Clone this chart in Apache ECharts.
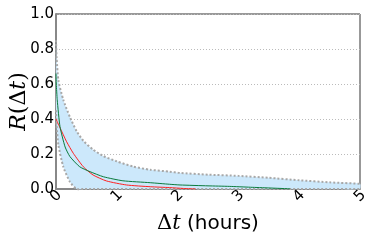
<!DOCTYPE html>
<html><head><meta charset="utf-8">
<script src="https://cdn.jsdelivr.net/npm/echarts@6/dist/echarts.min.js"></script>
<style>html,body{margin:0;padding:0;background:#fff}#c{width:374px;height:241px}</style>
</head><body><div id="c"></div>
<script>
const xTicks = [0, 1, 2, 3, 4, 5];
const yTicks = [0.0, 0.2, 0.4, 0.6, 0.8, 1.0];
const bandT     = [0, 0.01, 0.04, 0.12, 0.23, 0.34, 0.45, 0.61, 0.78, 1.0, 1.27, 1.55, 1.87, 2.04, 2.5, 3.0, 3.5, 4.0, 4.5, 5.0];
const bandUpper = [0.85, 0.75, 0.62, 0.51, 0.41, 0.33, 0.275, 0.225, 0.188, 0.158, 0.128, 0.11, 0.099, 0.092, 0.082, 0.075, 0.064, 0.05, 0.038, 0.03];
const bandLower = [0.45, 0.36, 0.25, 0.127, 0.04, 0.0, 0, 0, 0, 0, 0, 0, 0, 0, 0, 0, 0, 0, 0, 0];
const redT   = [0, 0.066, 0.175, 0.285, 0.45, 0.61, 0.83, 1.16, 1.55, 1.87, 2.1, 2.3];
const redV   = [0.40, 0.35, 0.27, 0.204, 0.127, 0.08, 0.046, 0.023, 0.013, 0.008, 0.003, 0.0];
const greenT = [0, 0.005, 0.02, 0.066, 0.15, 0.23, 0.39, 0.56, 0.78, 1.1, 1.55, 1.87, 2.04, 2.5, 2.85, 3.2, 3.5, 3.85];
const greenV = [0.66, 0.6, 0.51, 0.356, 0.24, 0.185, 0.127, 0.099, 0.07, 0.047, 0.036, 0.027, 0.023, 0.018, 0.015, 0.01, 0.006, 0.001];

const sans = 'DejaVu Sans', serif = 'DejaVu Serif';
const chart = echarts.init(document.getElementById('c'));
chart.setOption({
  animation: false,
  grid: {left: 56, right: 14, top: 14, bottom: 52, show: true, borderColor: '#333', borderWidth: 1,
         containLabel: false, outerBoundsMode: 'none'},
  xAxis: {
    type: 'value', min: 0, max: 5, interval: 1,
    axisLine: {show: true, lineStyle: {color: '#888', width: 2}},
    axisTick: {show: true, inside: true, length: 3, lineStyle: {color: '#888'}},
    splitLine: {show: false},
    axisLabel: {rotate: 45, align: 'center', verticalAlign: 'middle', color: '#000', fontFamily: sans, fontSize: 15, margin: 7,
      formatter: v => xTicks.includes(v) ? String(v) : ''},
    name: '{d|Δ}{i|t}{s| (hours)}', nameLocation: 'middle', nameGap: 24, nameMoveOverlap: false,
    nameTextStyle: {rich: {
      d: {fontFamily: serif, fontSize: 21, color: '#000'},
      i: {fontFamily: serif, fontSize: 21, fontStyle: 'italic', color: '#000'},
      s: {fontFamily: sans, fontSize: 20, color: '#000'}}}
  },
  yAxis: {
    type: 'value', min: 0, max: 1, interval: 0.2,
    axisLine: {show: true, lineStyle: {color: '#888', width: 2}},
    axisTick: {show: false},
    splitLine: {show: true, lineStyle: {color: '#bbb', type: [1, 2], width: 1}},
    axisLabel: {color: '#000', fontFamily: sans, fontSize: 15, margin: 2,
      formatter: v => { const t = yTicks.find(k => Math.abs(k - v) < 1e-9); return t === undefined ? '' : t.toFixed(1); }},
    name: '{i|R}{d|(Δ}{i|t}{d|)}', nameLocation: 'middle', nameGap: 26, nameMoveOverlap: false,
    nameTextStyle: {rich: {
      d: {fontFamily: serif, fontSize: 22, color: '#000'},
      i: {fontFamily: serif, fontSize: 22, fontStyle: 'italic', color: '#000'}}}
  },
  series: [
    {type: 'custom', z: 2, silent: true,
     data: [0],
     renderItem: (params, api) => {
       const up = bandT.map((t, i) => api.coord([t, bandUpper[i]]));
       const lo = bandT.map((t, i) => api.coord([t, bandLower[i]]));
       const poly = up.concat(lo.slice().reverse());
       return {type: 'group', children: [
         {type: 'polygon', shape: {points: poly, smooth: 0.2}, style: {fill: '#cce8fb', stroke: null}},
         {type: 'polyline', shape: {points: up, smooth: 0.2}, style: {fill: null, stroke: '#a8a8a8', lineWidth: 2, lineDash: [2, 2]}},
         {type: 'polyline', shape: {points: lo, smooth: 0.2}, style: {fill: null, stroke: '#a8a8a8', lineWidth: 2, lineDash: [2, 2]}}
       ]};
     }},
    {type: 'line', symbol: 'none', smooth: 0.2, data: redT.map((t, i) => [t, redV[i]]),
     lineStyle: {color: '#ff2020', width: 1}, z: 4},
    {type: 'line', symbol: 'none', smooth: 0.2, data: greenT.map((t, i) => [t, greenV[i]]),
     lineStyle: {color: '#0a7a3c', width: 1}, z: 5}
  ]
});
</script></body></html>
